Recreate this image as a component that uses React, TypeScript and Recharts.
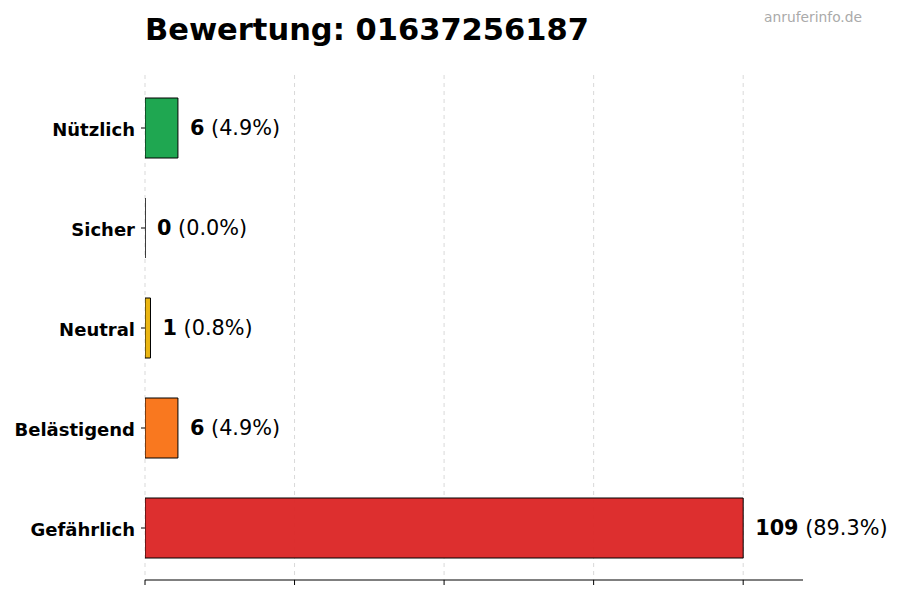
import { Bar, BarChart, CartesianGrid, Cell, LabelList, XAxis, YAxis } from "recharts";

// Bewertungen der Nummer, Reihenfolge von oben nach unten.
const CATEGORIES = ["Nützlich", "Sicher", "Neutral", "Belästigend", "Gefährlich"];
const COUNTS = [6, 0, 1, 6, 109];
const PERCENTS = ["4.9%", "0.0%", "0.8%", "4.9%", "89.3%"];
const COLORS = ["#16a34a", "#9ca3af", "#eab308", "#f97316", "#dc2626"];
const X_TICKS = [0, 27.25, 54.5, 81.75, 109];
const X_MAX = 119.9;

const FONT = "'DejaVu Sans', sans-serif";

const data = CATEGORIES.map((name, i) => ({
  name,
  count: COUNTS[i],
  pct: PERCENTS[i],
  color: COLORS[i],
}));

// Als Pfad zeichnen, damit auch ein Balken mit Breite 0 seinen Rand zeigt.
function BarShape(props: any) {
  const { x, y, width, height, fill } = props;
  const w = Math.max(width || 0, 0);
  return (
    <path
      d={`M${x},${y}h${w}v${height}h${-w}Z`}
      fill={fill}
      fillOpacity={0.96}
      stroke="#000"
      strokeWidth={1}
    />
  );
}

function ValueLabel(props: any) {
  const { x, y, width, height, index } = props;
  const d = data[index];
  return (
    <text
      x={x + width + 12}
      y={y + height / 2}
      dominantBaseline="central"
      fontFamily={FONT}
      fontSize={20.8}
      fill="#000"
    >
      <tspan fontWeight="bold">{d.count}</tspan>
      <tspan> ({d.pct})</tspan>
    </text>
  );
}

function CategoryTick(props: any) {
  const { x, y, payload } = props;
  return (
    <text
      x={x}
      y={y + 1}
      textAnchor="end"
      dominantBaseline="central"
      fontFamily={FONT}
      fontSize={18}
      fontWeight="bold"
      fill="#000"
    >
      {payload.value}
    </text>
  );
}

export default function App() {
  return (
    <div
      style={{
        position: "absolute",
        left: 0,
        top: 0,
        width: 900,
        height: 600,
        background: "#fff",
        fontFamily: FONT,
      }}
    >
      <div
        style={{
          position: "absolute",
          left: 145,
          top: 15,
          fontSize: 30.5,
          lineHeight: "30px",
          fontWeight: "bold",
          color: "#000",
        }}
      >
        Bewertung: 01637256187
      </div>
      <div
        style={{
          position: "absolute",
          right: 38,
          top: 10,
          fontSize: 13.8,
          lineHeight: "14px",
          color: "#aaaaaa",
        }}
      >
        anruferinfo.de
      </div>
      <BarChart
        width={900}
        height={600}
        data={data}
        layout="vertical"
        margin={{ top: 75, right: 97, left: 0, bottom: 0 }}
      >
        <CartesianGrid
          horizontal={false}
          verticalValues={X_TICKS}
          strokeDasharray="4 4"
          stroke="#d9d9d9"
        />
        <XAxis
          type="number"
          domain={[0, X_MAX]}
          ticks={X_TICKS}
          height={20}
          stroke="#000"
          tickSize={5}
          tick={() => <g />}
          allowDataOverflow
        />
        <YAxis
          type="category"
          dataKey="name"
          width={145}
          axisLine={false}
          tickSize={4}
          tickMargin={6}
          padding={{ top: 3, bottom: 2 }}
          tickLine={{ stroke: "#000", strokeWidth: 1 }}
          tick={<CategoryTick />}
        />
        <Bar dataKey="count" barSize={60} shape={<BarShape />} isAnimationActive={false}>
          {data.map((d) => (
            <Cell key={d.name} fill={d.color} />
          ))}
          <LabelList dataKey="count" content={<ValueLabel />} />
        </Bar>
      </BarChart>
    </div>
  );
}
